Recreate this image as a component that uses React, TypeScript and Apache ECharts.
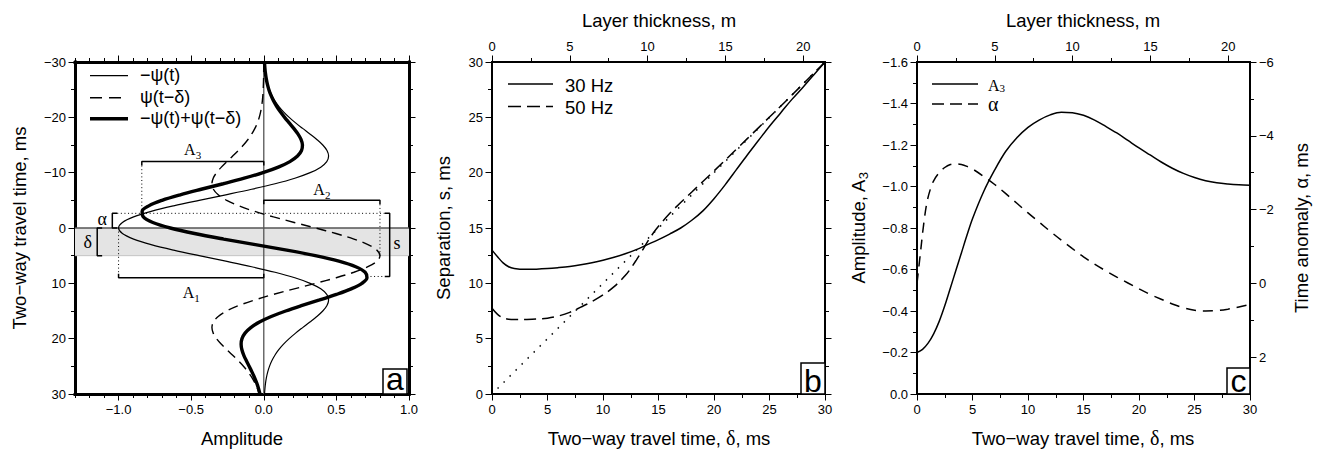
import React, { useEffect, useRef } from "react";
import * as echarts from "echarts";

const SANS = "'Liberation Sans', Arial, Helvetica, sans-serif";
const SERIF = "'Liberation Serif', 'Times New Roman', serif";

// ---------------- Panel a: wavelets ----------------
const travelTime = [
  -30, -29, -28, -27, -26, -25, -24, -23, -22, -21, -20, -19, -18, -17, -16, -15, -14, -13, -12, -11,
  -10, -9, -8, -7, -6, -5, -4, -3, -2, -1, 0, 1, 2, 3, 4, 5, 6, 7, 8, 9, 10, 11, 12, 13, 14, 15, 16,
  17, 18, 19, 20, 21, 22, 23, 24, 25, 26, 27, 28, 29, 30,
];
const negPsi = [
  0.0051, 0.008, 0.0122, 0.0184, 0.0272, 0.0392, 0.0554, 0.0765, 0.1032, 0.136,
  0.1749, 0.2191, 0.2675, 0.3174, 0.3651, 0.4062, 0.4352, 0.4463, 0.4337, 0.3924,
  0.3194, 0.2138, 0.0776, -0.0838, -0.2618, -0.4452, -0.6209, -0.7756, -0.8965, -0.9736,
  -1.0, -0.9736, -0.8965, -0.7756, -0.6209, -0.4452, -0.2618, -0.0838, 0.0776, 0.2138,
  0.3194, 0.3924, 0.4337, 0.4463, 0.4352, 0.4062, 0.3651, 0.3174, 0.2675, 0.2191,
  0.1749, 0.136, 0.1032, 0.0765, 0.0554, 0.0392, 0.0272, 0.0184, 0.0122, 0.008, 0.0051,
];
const delayedPsi = [
  -0.0003, -0.0006, -0.001, -0.0015, -0.0026, -0.0041, -0.0064, -0.0098, -0.0147, -0.0218,
  -0.0314, -0.0443, -0.0612, -0.0826, -0.1088, -0.1399, -0.1753, -0.214, -0.2539, -0.2921,
  -0.325, -0.3482, -0.357, -0.347, -0.3139, -0.2555, -0.171, -0.0621, 0.067, 0.2094,
  0.3562, 0.4967, 0.6205, 0.7172, 0.7789, 0.8, 0.7789, 0.7172, 0.6205, 0.4967,
  0.3562, 0.2094, 0.067, -0.0621, -0.171, -0.2555, -0.3139, -0.347, -0.357, -0.3482,
  -0.325, -0.2921, -0.2539, -0.214, -0.1753, -0.1399, -0.1088, -0.0826, -0.0612, -0.0443, -0.0314,
];
const sumPsi = [
  0.0048, 0.0074, 0.0112, 0.0169, 0.0246, 0.0351, 0.049, 0.0667, 0.0885, 0.1142,
  0.1435, 0.1748, 0.2063, 0.2348, 0.2563, 0.2663, 0.2599, 0.2323, 0.1798, 0.1003,
  -0.0056, -0.1344, -0.2794, -0.4308, -0.5757, -0.7007, -0.7919, -0.8377, -0.8295, -0.7642,
  -0.6438, -0.4769, -0.276, -0.0584, 0.158, 0.3548, 0.5171, 0.6334, 0.6981, 0.7105,
  0.6756, 0.6018, 0.5007, 0.3842, 0.2642, 0.1507, 0.0512, -0.0296, -0.0895, -0.1291,
  -0.1501, -0.1561, -0.1507, -0.1375, -0.1199, -0.1007, -0.0816, -0.0642, -0.049, -0.0363, -0.0263,
];

// annotated quantities of panel a
const deltaShift = 5;
const alphaTime = -2.65;
const peakTime = 8.76;
const a1Amp = -1.0;
const a2Amp = 0.8;
const a3Amp = -0.84;
const peakAmp = 0.71;

// ---------------- Panel b: separation ----------------
const delta30 = [0, 0.5, 1, 1.5, 2, 3, 4, 5, 6, 7, 8, 9, 10, 11, 12, 13, 14, 15, 16, 17, 18, 19, 20, 21, 22, 23, 24, 25, 26, 27, 28, 29, 30];
const sep30 = [13.0, 12.4, 11.85, 11.5, 11.35, 11.27, 11.28, 11.33, 11.42, 11.53, 11.68, 11.86, 12.08, 12.35, 12.67, 13.05, 13.5, 13.95, 14.45, 15.0, 15.7, 16.55, 17.65, 18.9, 20.25, 21.6, 22.9, 24.2, 25.4, 26.6, 27.7, 28.85, 30.0];
const delta50 = [0, 0.5, 1, 1.5, 2, 3, 4, 5, 6, 7, 8, 9, 10, 11, 12, 12.5, 13, 13.5, 14, 14.5, 15, 16, 17, 18, 19, 20, 22, 24, 26, 28, 30];
const sep50 = [7.75, 7.2, 6.88, 6.76, 6.73, 6.74, 6.77, 6.85, 7.05, 7.38, 7.85, 8.35, 8.95, 9.7, 10.7, 11.35, 12.1, 12.9, 13.75, 14.5, 15.15, 16.3, 17.3, 18.25, 19.2, 20.15, 22.1, 24.05, 26.0, 28.0, 30.0];
const diagDelta = [0.5, 30];
const diagSep = [0.5, 30];

// ---------------- Panel c: A3 and alpha ----------------
const deltaA3 = [0, 0.5, 1, 1.5, 2, 2.5, 3, 3.5, 4, 4.5, 5, 6, 7, 8, 9, 10, 11, 12, 13, 14, 15, 16, 17, 18, 19, 20, 21, 22, 23, 24, 25, 26, 27, 28, 29, 30];
const ampA3 = [-0.2, -0.215, -0.245, -0.29, -0.35, -0.425, -0.51, -0.595, -0.68, -0.765, -0.845, -0.975, -1.08, -1.17, -1.235, -1.285, -1.32, -1.345, -1.358, -1.356, -1.343, -1.32, -1.29, -1.258, -1.222, -1.186, -1.152, -1.118, -1.088, -1.063, -1.043, -1.028, -1.018, -1.012, -1.008, -1.006];
const deltaAlpha = [0, 0.3, 0.6, 0.9, 1.2, 1.5, 2, 2.5, 3, 3.5, 4, 4.5, 5, 6, 7, 8, 9, 10, 11, 12, 13, 14, 15, 16, 17, 18, 19, 20, 21, 22, 23, 24, 25, 26, 27, 28, 29, 30];
const alphaVals = [0, -0.8, -1.6, -2.2, -2.55, -2.78, -3.0, -3.14, -3.22, -3.24, -3.22, -3.17, -3.1, -2.9, -2.68, -2.43, -2.17, -1.91, -1.66, -1.41, -1.17, -0.94, -0.72, -0.52, -0.34, -0.17, -0.01, 0.15, 0.3, 0.43, 0.56, 0.66, 0.73, 0.75, 0.74, 0.7, 0.64, 0.57];

// ---------------- Ticks ----------------
const ampTicks = [-1, -0.5, 0, 0.5, 1];
const ampMinorTicks = [-1.3, -1.2, -1.1, -0.9, -0.8, -0.7, -0.6, -0.4, -0.3, -0.2, -0.1, 0.1, 0.2, 0.3, 0.4, 0.6, 0.7, 0.8, 0.9];
const timeTicks = [-30, -20, -10, 0, 10, 20, 30];
const timeMinorTicks = [-25, -15, -5, 5, 15, 25];
const deltaTicks = [0, 5, 10, 15, 20, 25, 30];
const deltaMinorTicks = [2.5, 7.5, 12.5, 17.5, 22.5, 27.5];
const thickTicks = [0, 5, 10, 15, 20];
const thickMinorTicks = [2.5, 7.5, 12.5, 17.5];
const thickMax = 21.4;
const ampCTicks = [-1.6, -1.4, -1.2, -1.0, -0.8, -0.6, -0.4, -0.2, 0];
const ampCMinorTicks = [-1.5, -1.3, -1.1, -0.9, -0.7, -0.5, -0.3, -0.1];
const alphaTicks = [-6, -4, -2, 0, 2];
const alphaMinorTicks = [-5, -3, -1, 1];

const minus = (s: string) => s.replace(/-/g, "\u2212");
const fmt0 = (v: number) => minus(String(Math.round(v)));
const fmt1 = (v: number) => minus(v.toFixed(1));

type AxisOpt = {
  grid: number;
  pos: string;
  min: number;
  max: number;
  inverse?: boolean;
  major: number[];
  minor: number[];
  labels?: (v: number) => string;
  frame: number;
};

function axisPair(o: AxisOpt) {
  const common = {
    type: "value",
    gridIndex: o.grid,
    position: o.pos,
    min: o.min,
    max: o.max,
    inverse: !!o.inverse,
    splitLine: { show: false },
    minorTick: { show: false },
    minorSplitLine: { show: false },
    axisPointer: { show: false },
    silent: true,
  };
  const major = {
    ...common,
    axisLine: { show: true, onZero: false, lineStyle: { color: "#000", width: o.frame, cap: "square" } },
    axisTick: { show: true, inside: false, length: 6.5, customValues: o.major, lineStyle: { color: "#000", width: 1 } },
    axisLabel: o.labels
      ? { show: true, customValues: o.major, formatter: o.labels, margin: 9, color: "#000", fontSize: 13, fontFamily: SANS }
      : { show: false },
  };
  const minorAxis = {
    ...common,
    axisLine: { show: false, onZero: false },
    axisTick: { show: true, inside: false, length: 4, customValues: o.minor, lineStyle: { color: "#000", width: 1 } },
    axisLabel: { show: false },
  };
  return [major, minorAxis];
}

const zip = (xs: number[], ys: number[]) => xs.map((x, i) => [x, ys[i]]);

function buildOption() {
  const xAxis = [
    ...axisPair({ grid: 0, pos: "bottom", min: -1.3, max: 1, major: ampTicks, minor: ampMinorTicks, labels: fmt1, frame: 3 }),
    ...axisPair({ grid: 0, pos: "top", min: -1.3, max: 1, major: ampTicks, minor: ampMinorTicks, frame: 3 }),
    ...axisPair({ grid: 1, pos: "bottom", min: 0, max: 30, major: deltaTicks, minor: deltaMinorTicks, labels: fmt0, frame: 2 }),
    ...axisPair({ grid: 1, pos: "top", min: 0, max: thickMax, major: thickTicks, minor: thickMinorTicks, labels: fmt0, frame: 2 }),
    ...axisPair({ grid: 2, pos: "bottom", min: 0, max: 30, major: deltaTicks, minor: deltaMinorTicks, labels: fmt0, frame: 2 }),
    ...axisPair({ grid: 2, pos: "top", min: 0, max: thickMax, major: thickTicks, minor: thickMinorTicks, labels: fmt0, frame: 2 }),
  ];
  const yAxis = [
    ...axisPair({ grid: 0, pos: "left", min: -30, max: 30, inverse: true, major: timeTicks, minor: timeMinorTicks, labels: fmt0, frame: 3 }),
    ...axisPair({ grid: 0, pos: "right", min: -30, max: 30, inverse: true, major: timeTicks, minor: timeMinorTicks, frame: 3 }),
    ...axisPair({ grid: 1, pos: "left", min: 0, max: 30, major: deltaTicks, minor: deltaMinorTicks, labels: fmt0, frame: 2 }),
    ...axisPair({ grid: 1, pos: "right", min: 0, max: 30, major: deltaTicks, minor: deltaMinorTicks, frame: 2 }),
    ...axisPair({ grid: 2, pos: "left", min: -1.6, max: 0, inverse: true, major: ampCTicks, minor: ampCMinorTicks, labels: fmt1, frame: 2 }),
    ...axisPair({ grid: 2, pos: "right", min: -6, max: 3, inverse: true, major: alphaTicks, minor: alphaMinorTicks, labels: fmt0, frame: 2 }),
  ];

  const base = { type: "line", showSymbol: false, symbol: "none", silent: true, animation: false };
  const pa = { ...base, xAxisIndex: 0, yAxisIndex: 0 };
  const black = (width: number, type: any = "solid") => ({ color: "#000", width, type });
  const dotted = { color: "#000", width: 1, type: [1, 2.6] };
  const tickT = 0.72; // bracket tick length in ms
  const tickX = 0.034; // bracket tick length in amplitude
  const alphaX = -1.043;
  const deltaX = -1.147;
  const sX = 0.867;

  const serifLabel = (x: number, t: number, text: string, size: number) => ({
    type: "scatter",
    xAxisIndex: 0,
    yAxisIndex: 0,
    silent: true,
    symbolSize: 1,
    itemStyle: { color: "#fff", opacity: 0 },
    data: [[x, t]],
    z: 6,
    label: {
      show: true,
      position: [0.5, 0.5],
      align: "center",
      verticalAlign: "middle",
      formatter: text,
      color: "#000",
      opacity: 1,
      textBorderWidth: 0,
      fontFamily: SERIF,
      fontSize: size,
      lineHeight: 22,
      rich: { s: { fontFamily: SERIF, fontSize: 11, lineHeight: 11, verticalAlign: "bottom", color: "#000" } },
    },
  });

  const series: any[] = [
    // shaded layer (delta) and its lower boundary
    {
      ...pa,
      z: 1,
      data: [[-1.3, deltaShift], [1, deltaShift]],
      lineStyle: { color: "#c4c4c4", width: 1 },
      markArea: {
        silent: true,
        itemStyle: { color: "#e4e4e4" },
        data: [[{ xAxis: -1.3, yAxis: 0 }, { xAxis: 1, yAxis: deltaShift }]],
      },
    },
    { ...pa, z: 2, data: [[-1.3, 0], [1, 0]], lineStyle: { color: "#555", width: 1.3 } },
    { ...pa, z: 2, data: [[0, -30], [0, 30]], lineStyle: { color: "#555", width: 1.3 } },
    // wavelets
    { ...pa, z: 3, smooth: 0.35, data: zip(negPsi, travelTime), lineStyle: black(1.2) },
    { ...pa, z: 3, smooth: 0.35, data: zip(delayedPsi, travelTime), lineStyle: black(1.4, [10, 6]) },
    { ...pa, z: 3, smooth: 0.35, data: zip(sumPsi, travelTime), lineStyle: black(3.4) },
    // brackets
    { ...pa, z: 4, data: [[a3Amp, -12 + tickT], [a3Amp, -12], [0, -12], [0, -12 + tickT]], lineStyle: black(1.5) },
    { ...pa, z: 4, data: [[a3Amp, -12 + tickT], [a3Amp, alphaTime]], lineStyle: dotted },
    { ...pa, z: 4, data: [[0, -5 + tickT], [0, -5], [a2Amp, -5], [a2Amp, -5 + tickT]], lineStyle: black(1.5) },
    { ...pa, z: 4, data: [[a2Amp, -5 + tickT], [a2Amp, deltaShift]], lineStyle: dotted },
    { ...pa, z: 4, data: [[a1Amp, 9 - tickT], [a1Amp, 9], [0, 9], [0, 9 - tickT]], lineStyle: black(1.5) },
    { ...pa, z: 4, data: [[a1Amp, 0], [a1Amp, 9 - tickT]], lineStyle: dotted },
    { ...pa, z: 4, data: [[alphaX + tickX, alphaTime], [sX - tickX, alphaTime]], lineStyle: dotted },
    { ...pa, z: 4, data: [[peakAmp, peakTime], [sX - tickX, peakTime]], lineStyle: dotted },
    { ...pa, z: 4, data: [[sX - tickX, alphaTime], [sX, alphaTime], [sX, peakTime], [sX - tickX, peakTime]], lineStyle: black(1.5) },
    { ...pa, z: 4, data: [[alphaX + tickX, alphaTime], [alphaX, alphaTime], [alphaX, 0], [alphaX + tickX, 0]], lineStyle: black(1.5) },
    { ...pa, z: 4, data: [[deltaX + tickX, 0], [deltaX, 0], [deltaX, deltaShift], [deltaX + tickX, deltaShift]], lineStyle: black(1.5) },
    serifLabel(-0.49, -14.1, "A{s|3}", 16),
    serifLabel(0.4, -6.9, "A{s|2}", 16),
    serifLabel(-0.5, 11.6, "A{s|1}", 16),
    serifLabel(-1.112, -1.7, "\u03b1", 18),
    serifLabel(-1.212, 2.62, "\u03b4", 18),
    serifLabel(0.918, 2.7, "s", 18),

    // panel b
    { ...base, xAxisIndex: 4, yAxisIndex: 4, z: 3, smooth: 0.35, data: zip(delta30, sep30), lineStyle: black(1.5) },
    { ...base, xAxisIndex: 4, yAxisIndex: 4, z: 3, smooth: 0.35, data: zip(delta50, sep50), lineStyle: black(1.5, [12, 6]) },
    { ...base, xAxisIndex: 4, yAxisIndex: 4, z: 3, data: zip(diagDelta, diagSep), lineStyle: { color: "#000", width: 1.5, type: [1.5, 7] } },

    // panel c
    { ...base, xAxisIndex: 8, yAxisIndex: 8, z: 3, smooth: 0.35, data: zip(deltaA3, ampA3), lineStyle: black(1.5) },
    { ...base, xAxisIndex: 8, yAxisIndex: 10, z: 3, smooth: 0.35, data: zip(deltaAlpha, alphaVals), lineStyle: black(1.5, [10, 7]) },
  ];

  const txt = (x: number, y: number, text: string, opts: any = {}) => ({
    type: "text",
    x,
    y,
    rotation: opts.rotation || 0,
    z: 100,
    silent: true,
    style: {
      text,
      fill: "#000",
      fontFamily: opts.fontFamily || SANS,
      fontSize: opts.fontSize || 18.5,
      lineHeight: opts.lineHeight,
      align: opts.align || "center",
      verticalAlign: "middle",
      textAlign: opts.align || "center",
      textVerticalAlign: "middle",
      rich: opts.rich,
    },
  });
  const seg = (x1: number, y1: number, x2: number, y2: number, w: number, dash?: number[]) => ({
    type: "line",
    z: 100,
    silent: true,
    shape: { x1, y1, x2, y2 },
    style: { stroke: "#000", lineWidth: w, lineDash: dash || null },
  });
  const box = (x: number, y: number, w: number, h: number) => ({
    type: "rect",
    z: 99,
    silent: true,
    shape: { x, y, width: w, height: h },
    style: { fill: "#fff", stroke: "#000", lineWidth: 1.5 },
  });
  const greek = { g: { fontFamily: SERIF, fontSize: 20, fill: "#000", color: "#000" } };
  const subSans = { s: { fontFamily: SANS, fontSize: 13, lineHeight: 12, verticalAlign: "bottom", color: "#000", fill: "#000" } };
  const subSerif = { s: { fontFamily: SERIF, fontSize: 11, lineHeight: 10, verticalAlign: "bottom", color: "#000", fill: "#000" } };
  const R = Math.PI / 2;

  const graphic = [
    // axis titles
    txt(242, 438, "Amplitude"),
    txt(19, 228, "Two\u2212way travel time, ms", { rotation: R }),
    txt(659, 438, "Two\u2212way travel time, {g|\u03b4}, ms", { rich: greek }),
    txt(659, 20, "Layer thickness, m"),
    txt(443, 228, "Separation, s, ms", { rotation: R }),
    txt(1083, 438, "Two\u2212way travel time, {g|\u03b4}, ms", { rich: greek }),
    txt(1083, 20, "Layer thickness, m"),
    txt(858, 228, "Amplitude, A{s|3}", { rotation: R, rich: subSans, lineHeight: 24 }),
    txt(1301, 228, "Time anomaly, \u03b1, ms", { rotation: R }),
    // legend a
    seg(90, 75.7, 128, 75.7, 1.2),
    seg(90, 97.7, 128, 97.7, 1.4, [12, 7]),
    seg(90, 118.7, 128, 118.7, 3.4),
    txt(140, 75, "\u2212\u03c8(t)", { align: "left", fontSize: 18 }),
    txt(140, 97, "\u03c8(t\u2212\u03b4)", { align: "left", fontSize: 18 }),
    txt(140, 118, "\u2212\u03c8(t)+\u03c8(t\u2212\u03b4)", { align: "left", fontSize: 18 }),
    // legend b
    seg(508, 84, 553, 84, 1.5),
    seg(508, 106.5, 553, 106.5, 1.5, [13, 6]),
    txt(565, 85, "30 Hz", { align: "left" }),
    txt(565, 107, "50 Hz", { align: "left" }),
    // legend c
    seg(932, 84, 978, 84, 1.5),
    seg(932, 104, 978, 104, 1.5, [12, 6]),
    txt(988, 85, "A{s|3}", { align: "left", fontFamily: SERIF, fontSize: 16, rich: subSerif, lineHeight: 16 }),
    txt(988, 104, "\u03b1", { align: "left", fontFamily: SERIF, fontSize: 20, lineHeight: 18 }),
    // panel letters
    box(383, 369, 24, 25),
    txt(395, 379, "a", { fontSize: 32 }),
    box(801, 363, 24, 31),
    txt(813, 380.5, "b", { fontSize: 32 }),
    box(1227, 368, 23, 26),
    txt(1238.5, 380.5, "c", { fontSize: 32 }),
  ];

  return {
    animation: false,
    backgroundColor: "#fff",
    grid: [
      { left: 75, top: 62, width: 334, height: 332, containLabel: false, outerBoundsMode: "none" },
      { left: 492, top: 62, width: 333, height: 332, containLabel: false, outerBoundsMode: "none" },
      { left: 917, top: 62, width: 333, height: 332, containLabel: false, outerBoundsMode: "none" },
    ],
    xAxis,
    yAxis,
    series,
    graphic: { elements: graphic },
  };
}

export default function App() {
  const ref = useRef<HTMLDivElement>(null);
  useEffect(() => {
    if (!ref.current) return;
    const chart = echarts.init(ref.current, undefined, { renderer: "svg" });
    chart.setOption(buildOption() as any);
    return () => chart.dispose();
  }, []);
  return (
    <div
      ref={ref}
      style={{ position: "fixed", left: 0, top: 0, width: 1319, height: 451, background: "#fff" }}
    />
  );
}
